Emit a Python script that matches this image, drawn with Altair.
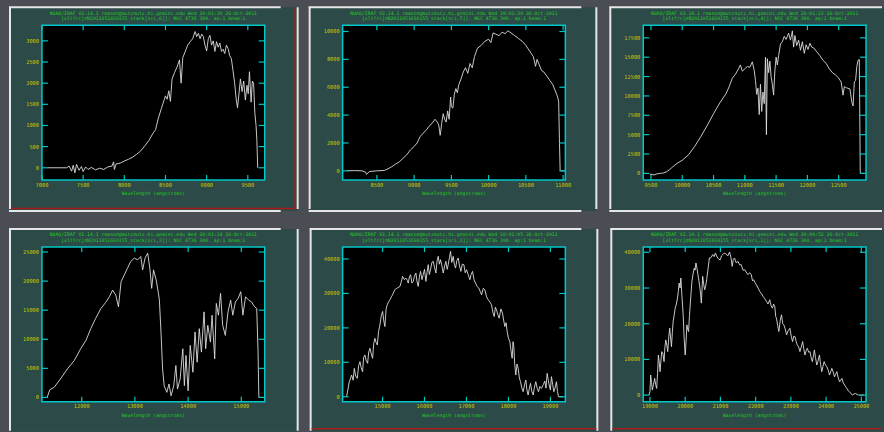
import altair as alt
import pandas as pd

# ---------------- data ----------------
spec1 = [(7070,0),(7100,0),(7200,0),(7300,0),(7330,40),(7360,-80),(7380,60),(7400,-120),(7420,80),(7450,-60),
         (7480,30),(7500,-90),(7530,20),(7560,-40),(7600,10),(7650,-50),(7700,-10),(7750,-40),(7800,20),(7850,40),
         (7870,140),(7880,-40),(7900,90),(7950,110),(8000,160),(8050,200),(8100,250),(8150,320),(8200,400),(8250,520),
         (8300,650),(8350,820),(8380,900),(8410,1150),(8450,1400),(8480,1580),(8500,1700),(8520,1620),(8540,1820),(8560,1570),
         (8580,2100),(8610,2250),(8640,2380),(8670,2550),(8690,2000),(8710,2600),(8740,2750),(8770,2900),(8800,2980),(8830,3050),
         (8860,3220),(8880,3100),(8900,3180),(8920,3050),(8940,3160),(8960,3100),(8980,2900),(9000,2760),(9020,3050),(9040,3130),
         (9060,2900),(9080,3000),(9100,2750),(9120,2980),(9140,2850),(9160,2950),(9180,2750),(9200,2800),(9220,2700),(9240,2900),
         (9260,2820),(9280,2650),(9300,2580),(9320,2300),(9340,2000),(9360,1600),(9375,1420),(9390,1700),(9410,2100),(9430,1800),
         (9450,2050),(9470,1600),(9490,1950),(9505,1750),(9520,2270),(9540,1550),(9555,2050),(9570,2000),(9585,1300),(9600,1000),
         (9610,650),(9620,0)]

spec2 = [(8100,0),(8200,20),(8300,0),(8350,-100),(8360,-250),(8400,-50),(8500,0),(8600,30),(8650,150),(8700,300),
         (8750,480),(8800,640),(8850,900),(8900,1150),(8950,1500),(9000,1750),(9040,2000),(9080,2450),(9120,2700),(9160,2900),
         (9200,3200),(9240,3400),(9280,3700),(9310,3500),(9330,3300),(9350,2550),(9370,3400),(9390,4100),(9410,3700),(9430,3500),
         (9450,4300),(9470,3700),(9490,5300),(9500,4600),(9520,4500),(9540,5500),(9560,5900),(9580,5600),(9600,6200),(9630,6600),
         (9660,7100),(9690,7400),(9720,7000),(9750,7700),(9780,7400),(9810,8200),(9850,8800),(9900,9000),(9950,9300),(10000,9450),
         (10030,9200),(10060,9900),(10100,9800),(10140,9700),(10180,9950),(10220,9850),(10260,10050),(10300,9900),(10350,9700),(10400,9500),
         (10450,9300),(10500,9000),(10550,8600),(10600,8200),(10630,7500),(10650,8000),(10680,7600),(10710,7200),(10740,7100),(10780,6800),
         (10820,6500),(10860,6200),(10890,5800),(10920,5400),(10940,5000),(10950,2300),(10960,0),(11020,0)]

spec3 = [(9480,-90),(9550,-200),(9600,-50),(9650,0),(9700,50),(9750,215),(9800,500),(9850,860),(9900,1200),(10000,1700),
         (10100,2400),(10200,3500),(10300,4800),(10400,6200),(10500,7700),(10600,9100),(10700,10300),(10750,11200),(10800,12300),(10850,12800),
         (10900,13500),(10930,14000),(10960,13200),(11000,13500),(11040,13800),(11080,13700),(11120,14400),(11150,13300),(11170,12000),(11190,10200),
         (11210,11000),(11230,7600),(11250,11500),(11270,8000),(11290,10500),(11310,9000),(11330,15000),(11345,5000),(11360,14800),(11380,13000),
         (11400,14500),(11420,12500),(11440,11500),(11460,10100),(11480,13200),(11500,15000),(11520,14000),(11540,15200),(11570,16700),(11600,17000),
         (11630,17700),(11660,17300),(11700,18100),(11730,17200),(11760,18400),(11780,16300),(11800,17800),(11830,16500),(11860,17200),(11890,15900),
         (11920,17000),(11950,15500),(11980,16600),(12010,16000),(12040,16800),(12070,16300),(12100,16200),(12150,15700),(12200,15200),(12250,14600),
         (12300,14200),(12350,13500),(12400,13000),(12450,12700),(12500,12300),(12540,11800),(12570,10100),(12590,11200),(12610,11100),(12640,11000),
         (12680,10900),(12710,9200),(12730,8700),(12750,11800),(12770,12000),(12790,13800),(12810,14600),(12830,14700),(12845,0),(12900,0)]

spec4 = [(11350,0),(11400,1330),(11480,1730),(11600,3170),(11730,4900),(11860,6350),(11980,8370),(12080,9810),(12170,11830),(12260,13560),
         (12360,15290),(12450,16330),(12520,17310),(12580,18460),(12640,17600),(12690,15580),(12740,19900),(12800,21060),(12860,22210),(12920,23370),
         (12990,23950),(13050,23660),(13110,24230),(13145,21930),(13190,23950),(13240,24810),(13280,22210),(13315,18750),(13350,21930),(13400,20200),
         (13440,18000),(13460,16730),(13490,11250),(13520,4900),(13550,2020),(13600,870),(13640,2310),(13680,290),(13730,2020),(13770,5480),
         (13800,1440),(13850,3170),(13900,8370),(13930,2020),(13960,7210),(14000,1150),(14040,8940),(14090,4330),(14130,11250),(14170,6060),
         (14210,11830),(14250,7790),(14300,14710),(14330,8370),(14370,12400),(14420,9520),(14450,14140),(14500,6640),(14530,16160),(14570,14140),
         (14610,17890),(14650,12400),(14700,10670),(14750,14710),(14800,16730),(14840,14140),(14890,16440),(14940,17020),(14990,18180),(15030,14140),
         (15080,17310),(15140,16730),(15190,16440),(15250,15580),(15290,15290),(15315,7790),(15330,0),(15420,0)]

spec5 = [(14143,0),(14207,4370),(14262,6310),(14300,4800),(14326,8250),(14360,6000),(14397,5340),(14430,9000),(14461,10200),(14490,8500),
         (14524,7280),(14550,11500),(14580,12140),(14610,10500),(14644,9710),(14670,13000),(14699,14080),(14730,12500),(14763,11170),(14790,15500),
         (14818,16990),(14845,15800),(14874,15050),(14905,19000),(14937,20880),(14970,23500),(15001,24760),(15030,22000),(15056,20390),(15085,25500),
         (15112,26700),(15140,27500),(15175,28160),(15210,29000),(15239,29620),(15290,31070),(15340,31500),(15414,32040),(15450,33500),(15477,34960),
         (15520,34000),(15557,34470),(15590,33800),(15612,33010),(15640,34800),(15668,35440),(15700,33000),(15731,33500),(15760,35000),(15795,35930),
         (15820,33500),(15850,32040),(15880,35000),(15906,36410),(15940,34000),(15969,35440),(16000,37000),(16033,33500),(16060,36000),(16088,38360),
         (16115,35500),(16144,36900),(16175,39000),(16207,39330),(16240,37500),(16271,35930),(16300,39500),(16327,40780),(16355,38500),(16382,39810),
         (16415,38000),(16446,35930),(16480,38000),(16509,39330),(16540,37000),(16565,38360),(16595,40500),(16620,42240),(16650,39000),(16684,40780),
         (16710,38500),(16740,37380),(16770,39500),(16803,40300),(16835,38000),(16867,36410),(16900,38500),(16938,38360),(16970,36000),(17002,36900),
         (17040,35500),(17081,33980),(17110,35500),(17145,36410),(17180,34000),(17216,33010),(17255,32000),(17295,31560),(17330,30500),(17359,29620),
         (17400,31500),(17438,31070),(17480,29000),(17518,28160),(17560,27500),(17597,26700),(17630,24500),(17661,23300),(17690,26000),(17716,25250),
         (17750,23800),(17780,22820),(17820,25500),(17859,24280),(17890,22000),(17915,20390),(17945,21500),(17970,18930),(18000,17000),(18034,16020),
         (18060,13500),(18089,11170),(18110,16000),(18129,14570),(18150,9500),(18176,6310),(18205,9500),(18232,8250),(18260,5500),(18288,4370),
         (18320,2500),(18351,1460),(18385,3500),(18415,4860),(18440,2000),(18470,490),(18500,2500),(18526,3880),(18560,1500),(18590,490),
         (18620,2800),(18653,4370),(18685,2500),(18717,1460),(18750,3000),(18788,2430),(18830,3500),(18867,4560),(18895,2500),(18923,6800),
         (18950,4800),(18971,3400),(19000,2000),(19026,5830),(19055,3500),(19082,1460),(19110,2500),(19145,4370),(19170,1500),(19193,0),
         (19304,0)]

spec6 = [(18972,0),(19000,1000),(19020,5620),(19045,3500),(19067,1410),(19100,3000),(19134,4690),(19160,3000),(19191,1870),(19215,6000),
         (19239,11240),(19265,9000),(19286,6560),(19310,9500),(19334,12180),(19370,11500),(19400,9370),(19425,13500),(19448,15460),(19478,14000),
         (19505,12180),(19535,16500),(19562,18740),(19585,16000),(19610,13590),(19635,17500),(19658,20610),(19690,22500),(19715,24360),(19750,25500),
         (19781,27170),(19805,29000),(19829,31390),(19855,30000),(19877,32800),(19905,28110),(19943,22490),(19970,16000),(20000,11240),(20025,15000),
         (20048,19680),(20070,18500),(20096,17800),(20120,22000),(20143,25300),(20170,29000),(20191,31860),(20225,34000),(20258,35610),(20280,35000),
         (20305,37010),(20335,35500),(20362,33730),(20390,32000),(20419,29980),(20440,28000),(20458,25770),(20480,30000),(20496,33270),(20525,31000),
         (20553,29520),(20580,30500),(20610,32330),(20650,35500),(20686,38420),(20730,38500),(20781,39350),(20820,38800),(20858,39820),(20890,39000),
         (20924,38420),(20960,38000),(21000,37950),(21030,39000),(21067,39350),(21110,39800),(21162,39540),(21210,39000),(21258,40100),(21300,38500),
         (21334,36070),(21365,38000),(21400,38420),(21450,37000),(21496,37480),(21545,36500),(21591,36540),(21640,35000),(21686,35140),(21730,34500),
         (21781,33730),(21830,34300),(21877,33730),(21910,32000),(21943,32330),(21980,31500),(22020,30920),(22070,30000),(22115,29050),(22160,28500),
         (22210,27640),(22260,27000),(22305,26240),(22350,25500),(22400,26710),(22440,25000),(22477,24360),(22510,25500),(22543,24830),(22570,22000),
         (22591,21550),(22625,19500),(22658,17800),(22700,21000),(22734,22490),(22770,20000),(22801,19680),(22840,18500),(22877,16870),(22920,18000),
         (22972,18740),(23010,16500),(23048,14990),(23080,16500),(23115,16400),(23150,15000),(23182,14060),(23220,13500),(23258,12180),(23295,13500),
         (23334,14990),(23365,13000),(23400,11240),(23435,12500),(23467,13120),(23505,12000),(23543,12180),(23575,10500),(23610,9370),(23640,11000),
         (23667,12650),(23700,10500),(23734,8430),(23770,9500),(23810,11240),(23845,8500),(23877,6560),(23910,8000),(23943,9370),(23980,8500),
         (24020,7960),(24060,7000),(24096,5620),(24130,6500),(24162,7500),(24200,6500),(24239,5150),(24270,5800),(24305,6560),(24340,5000),
         (24382,3750),(24415,4200),(24448,4690),(24485,3500),(24524,2810),(24560,2300),(24591,1870),(24630,1200),(24667,940),(24705,500),
         (24743,0),(24790,300),(24829,470),(24880,200),(24924,0),(25067,0)]

x_domains = [[7000, 9705], [8040, 11030], [9377, 12937], [11252, 15440], [14048, 19357], [18810, 25133]]
y_domains = [[-290, 3370], [-660, 10450], [-860, 19130], [-750, 25870], [-1460, 43500], [-1870, 41500]]
x_ticks = [[7000, 7500, 8000, 8500, 9000, 9500],
           [8500, 9000, 9500, 10000, 10500, 11000],
           [9500, 10000, 10500, 11000, 11500, 12000, 12500],
           [12000, 13000, 14000, 15000],
           [15000, 16000, 17000, 18000, 19000],
           [19000, 20000, 21000, 22000, 23000, 24000, 25000]]
y_ticks = [[0, 500, 1000, 1500, 2000, 2500, 3000],
           [0, 2000, 4000, 6000, 8000, 10000],
           [0, 2500, 5000, 7500, 10000, 12500, 15000, 17500],
           [0, 5000, 10000, 15000, 20000, 25000],
           [0, 10000, 20000, 30000, 40000],
           [0, 10000, 20000, 30000, 40000]]
stamps = ["20:01:39", "20:01:30", "20:01:23", "20:01:14", "20:01:05", "20:00:52"]
sci_ext = [6, 5, 4, 3, 2, 1]
x_title = "Wavelength (angstroms)"

# ---------------- style ----------------
W, H = 223, 155
BG = "#4b4d54"
TEAL = "#2c4a48"
CYAN = "#00c8c8"
YEL = "#c8c800"
GREEN = "#22cc22"
WHITE = "#e6e6e6"
RED = "#a81c1c"
LINEC = "#dcdcdc"
MONO = "DejaVu Sans Mono"

# panel frame boxes (left, right, top, bottom), visible white sides, red lines
boxes = [(-32, 256, -18, 186), (-33, 254, -18, 186), (-33, 241, -18, 186),
         (-32, 256, -18, 185), (-32, 255, -18, 185), (-32, 241, -18, 185)]
sides = [("t", "l", "r", "b"), ("t", "l", "r", "b"), ("t", "l", "b"),
         ("t", "l", "r"), ("t", "l", "r"), ("t", "l")]
reds = [[(253.5, 253.5, -17, 184), (-31, 253.5, 183.5, 183.5)], [], [],
        [], [(-31, 254, 182, 182)], [(-31, 239, 182, 182)]]


def seg(x1, x2, y1, y2, color, sw):
    return alt.Chart().mark_rule(color=color, strokeWidth=sw).encode(
        x=alt.value(x1), x2=alt.value(x2), y=alt.value(y1), y2=alt.value(y2))


def panel(i, spec):
    wl, fl = zip(*spec)
    df = pd.DataFrame({"wl": wl, "flux": fl})
    xs = alt.Scale(domain=x_domains[i], zero=False, nice=False)
    ys = alt.Scale(domain=y_domains[i], zero=False, nice=False)
    L, R, T, B = boxes[i]
    hx2 = R + 1 if R < 240 else 239
    layers = [alt.Chart().mark_rect(fill=TEAL, strokeWidth=0).encode(
        x=alt.value(L), x2=alt.value(R), y=alt.value(T), y2=alt.value(B))]
    if "t" in sides[i]:
        layers.append(seg(L - 1, hx2, T, T, WHITE, 2))
    if "b" in sides[i]:
        layers.append(seg(L - 1, hx2, B, B, WHITE, 2))
    if "l" in sides[i]:
        layers.append(seg(L, L, T, min(B, 184), WHITE, 2))
    if "r" in sides[i]:
        layers.append(seg(R, R, T, min(B, 184), WHITE, 2))
    for (a, b, c, d) in reds[i]:
        layers.append(seg(a, b, c, d, RED, 1.5))
    # plot area
    layers.append(alt.Chart().mark_rect(fill="black", stroke=CYAN, strokeWidth=1.5).encode(
        x=alt.value(0), x2=alt.value(W), y=alt.value(0), y2=alt.value(H)))
    # spectrum
    layers.append(alt.Chart(df).mark_line(color=LINEC, strokeWidth=0.9).encode(
        x=alt.X("wl:Q", scale=xs, axis=None), y=alt.Y("flux:Q", scale=ys, axis=None)))
    # inward ticks and tick labels
    xt = pd.DataFrame({"t": x_ticks[i]})
    yt = pd.DataFrame({"t": y_ticks[i]})
    for y1, y2 in [(H - 5, H), (0, 5)]:
        layers.append(alt.Chart(xt).mark_rule(color=CYAN, strokeWidth=1.2).encode(
            x=alt.X("t:Q", scale=xs, axis=None), y=alt.value(y1), y2=alt.value(y2)))
    for x1, x2 in [(0, 6), (W - 6, W)]:
        layers.append(alt.Chart(yt).mark_rule(color=CYAN, strokeWidth=1.2).encode(
            y=alt.Y("t:Q", scale=ys, axis=None), x=alt.value(x1), x2=alt.value(x2)))
    layers.append(alt.Chart(xt).mark_text(font=MONO, fontSize=5.3, color=YEL,
                                          align="center", baseline="middle").encode(
        x=alt.X("t:Q", scale=xs, axis=None), y=alt.value(H + 4.5),
        text=alt.Text("t:Q", format="d")))
    layers.append(alt.Chart(yt).mark_text(font=MONO, fontSize=5.3, color=YEL,
                                          align="right", baseline="middle").encode(
        y=alt.Y("t:Q", scale=ys, axis=None), x=alt.value(-3),
        text=alt.Text("t:Q", format="d")))
    # x-axis title and IRAF header lines
    line1 = f"NOAO/IRAF V2.14.1 rmason@mutznutz.hi.gemini.edu Wed {stamps[i]} 26-Oct-2011"
    line2 = f"[xltfrc]nN20110516S0155_stack[sci,{sci_ext[i]}]]: NGC 4736 300. ap:1 beam:1"
    for yy, txt in [(-11.5, line1), (-6, line2), (H + 14, x_title)]:
        layers.append(alt.Chart().mark_text(font=MONO, fontSize=4.8, color=GREEN,
                                            align="center", baseline="middle").encode(
            x=alt.value(W / 2), y=alt.value(yy), text=alt.value(txt)))
    return alt.layer(*layers).properties(width=W, height=H)


specs = [spec1, spec2, spec3, spec4, spec5, spec6]
panels = [panel(i, s) for i, s in enumerate(specs)]
chart = alt.concat(*panels, columns=3, spacing={"row": 67, "column": 78}, bounds="flush").properties(
    background=BG, padding={"left": 8, "top": 6, "right": 0, "bottom": 0}
).configure_view(strokeOpacity=0)

chart.save("out.html", embed_options={"renderer": "svg", "actions": False})
